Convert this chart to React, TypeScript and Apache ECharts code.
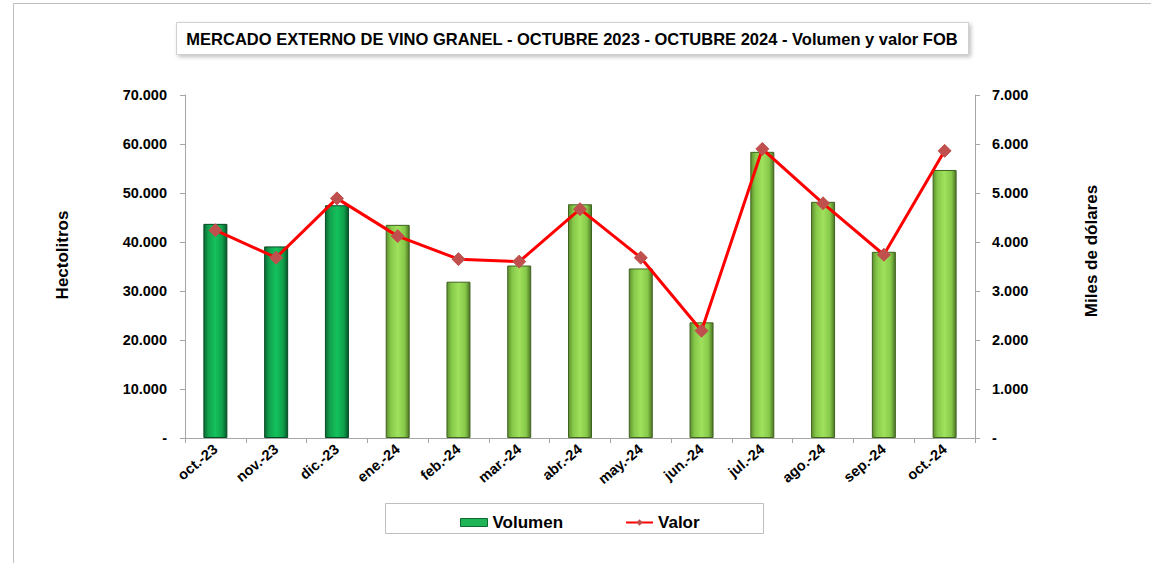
import React, { useEffect, useRef } from "react";
import * as echarts from "echarts";

const categories = ["oct.-23", "nov.-23", "dic.-23", "ene.-24", "feb.-24", "mar.-24", "abr.-24", "may.-24", "jun.-24", "jul.-24", "ago.-24", "sep.-24", "oct.-24"];
const volumen = [43700, 39100, 47500, 43500, 31900, 35200, 47700, 34600, 23600, 58400, 48200, 38000, 54700];
const valor = [4240, 3680, 4890, 4120, 3650, 3600, 4670, 3680, 2190, 5900, 4790, 3740, 5860];
const darkCount = 3;

const FONT = "'Liberation Sans', Arial, sans-serif";

const fmtThousands = (v: number) => {
  if (v === 0) return "-";
  return String(Math.round(v)).replace(/\B(?=(\d{3})+(?!\d))/g, ".");
};

const darkGrad = () =>
  new echarts.graphic.LinearGradient(0, 0, 1, 0, [
    { offset: 0, color: "#0b6b33" },
    { offset: 0.2, color: "#12a24e" },
    { offset: 0.5, color: "#14c25c" },
    { offset: 0.8, color: "#0fa04c" },
    { offset: 1, color: "#07572a" },
  ]);
const lightGrad = () =>
  new echarts.graphic.LinearGradient(0, 0, 1, 0, [
    { offset: 0, color: "#5f8f2e" },
    { offset: 0.2, color: "#86c94a" },
    { offset: 0.5, color: "#a0e15c" },
    { offset: 0.8, color: "#86c94a" },
    { offset: 1, color: "#4d7524" },
  ]);

export default function App() {
  const ref = useRef<HTMLDivElement>(null);
  useEffect(() => {
    if (!ref.current) return;
    const chart = echarts.init(ref.current, undefined, { renderer: "svg" });
    chart.setOption({
      animation: false,
      backgroundColor: "#ffffff",
      textStyle: { fontFamily: FONT },
      graphic: [
        {
          type: "rect",
          shape: { x: 13.5, y: 3.5, width: 1160, height: 600 },
          style: { fill: "none", stroke: "#bfbfbf", lineWidth: 1 },
          silent: true,
        },
        {
          type: "rect",
          shape: { x: 176.5, y: 22.5, width: 792, height: 32 },
          style: {
            fill: "#ffffff",
            stroke: "#d0d0d0",
            lineWidth: 1,
            shadowBlur: 4,
            shadowOffsetX: 2,
            shadowOffsetY: 2,
            shadowColor: "rgba(0,0,0,0.25)",
          },
          silent: true,
        },
        {
          type: "text",
          x: 572,
          y: 39,
          style: {
            text: "MERCADO EXTERNO DE VINO GRANEL - OCTUBRE 2023 - OCTUBRE 2024 - Volumen y valor FOB",
            font: `bold 16.5px ${FONT}`,
            fill: "#000000",
            align: "center",
            verticalAlign: "middle",
          },
        },
        {
          type: "rect",
          shape: { x: 385.5, y: 503.5, width: 378, height: 30 },
          style: { fill: "#ffffff", stroke: "#bfbfbf", lineWidth: 1 },
          silent: true,
          z: -1,
        },
        {
          type: "text",
          x: 62,
          y: 255,
          rotation: Math.PI / 2,
          style: {
            text: "Hectolitros",
            font: `bold 17px ${FONT}`,
            fill: "#000",
            align: "center",
            verticalAlign: "middle",
          },
        },
        {
          type: "text",
          x: 1091,
          y: 251,
          rotation: Math.PI / 2,
          style: {
            text: "Miles de dólares",
            font: `bold 17px ${FONT}`,
            fill: "#000",
            align: "center",
            verticalAlign: "middle",
          },
        },
      ],
      legend: {
        left: 455,
        top: 509,
        itemGap: 62,
        textStyle: { fontFamily: FONT, fontWeight: "bold", fontSize: 17, color: "#000" },
        data: [
          { name: "Volumen", icon: "rect", itemStyle: { color: "#1fb455", borderColor: "#0b6b33", borderWidth: 1 } },
          { name: "Valor" },
        ],
        itemWidth: 27,
        itemHeight: 8,
      },
      grid: { left: 185, right: 176, top: 95, bottom: 125, containLabel: false },
      xAxis: {
        type: "category",
        data: categories,
        boundaryGap: true,
        axisLine: { lineStyle: { color: "#a6a6a6", width: 1 } },
        axisTick: { show: true, length: 5, lineStyle: { color: "#a6a6a6" } },
        axisLabel: {
          rotate: 40,
          color: "#000",
          fontWeight: "bold",
          fontSize: 14.5,
          fontFamily: FONT,
          margin: 9,
          interval: 0,
        },
      },
      yAxis: [
        {
          type: "value",
          min: 0,
          max: 70000,
          interval: 10000,
          axisLine: { show: true, lineStyle: { color: "#a6a6a6" } },
          axisTick: { show: true, length: 5, lineStyle: { color: "#a6a6a6" } },
          splitLine: { show: false },
          axisLabel: {
            formatter: fmtThousands,
            color: "#000",
            fontWeight: "bold",
            fontSize: 14.5,
            fontFamily: FONT,
            margin: 18,
          },
        },
        {
          type: "value",
          min: 0,
          max: 7000,
          interval: 1000,
          position: "right",
          axisLine: { show: true, lineStyle: { color: "#a6a6a6" } },
          axisTick: { show: true, length: 5, inside: false, lineStyle: { color: "#a6a6a6" } },
          splitLine: { show: false },
          axisLabel: {
            formatter: fmtThousands,
            color: "#000",
            fontWeight: "bold",
            fontSize: 14.5,
            fontFamily: FONT,
            margin: 17,
          },
        },
      ],
      series: [
        {
          name: "Volumen",
          type: "bar",
          yAxisIndex: 0,
          barWidth: 24,
          data: volumen.map((v, i) => ({
            value: v,
            itemStyle: {
              color: i < darkCount ? darkGrad() : lightGrad(),
              borderColor: i < darkCount ? "#064a24" : "#3f6320",
              borderWidth: 1,
            },
          })),
          itemStyle: { color: "#1fb455" },
          z: 2,
        },
        {
          name: "Valor",
          type: "line",
          yAxisIndex: 1,
          data: valor,
          symbol: "diamond",
          symbolSize: 13,
          lineStyle: { color: "#ff0000", width: 3 },
          itemStyle: { color: "#c0504d", borderColor: "#c0504d" },
          z: 3,
        },
      ],
    });
    return () => chart.dispose();
  }, []);
  return (
    <div
      ref={ref}
      style={{ position: "fixed", left: 0, top: 0, width: 1151, height: 563, background: "#fff" }}
    />
  );
}
